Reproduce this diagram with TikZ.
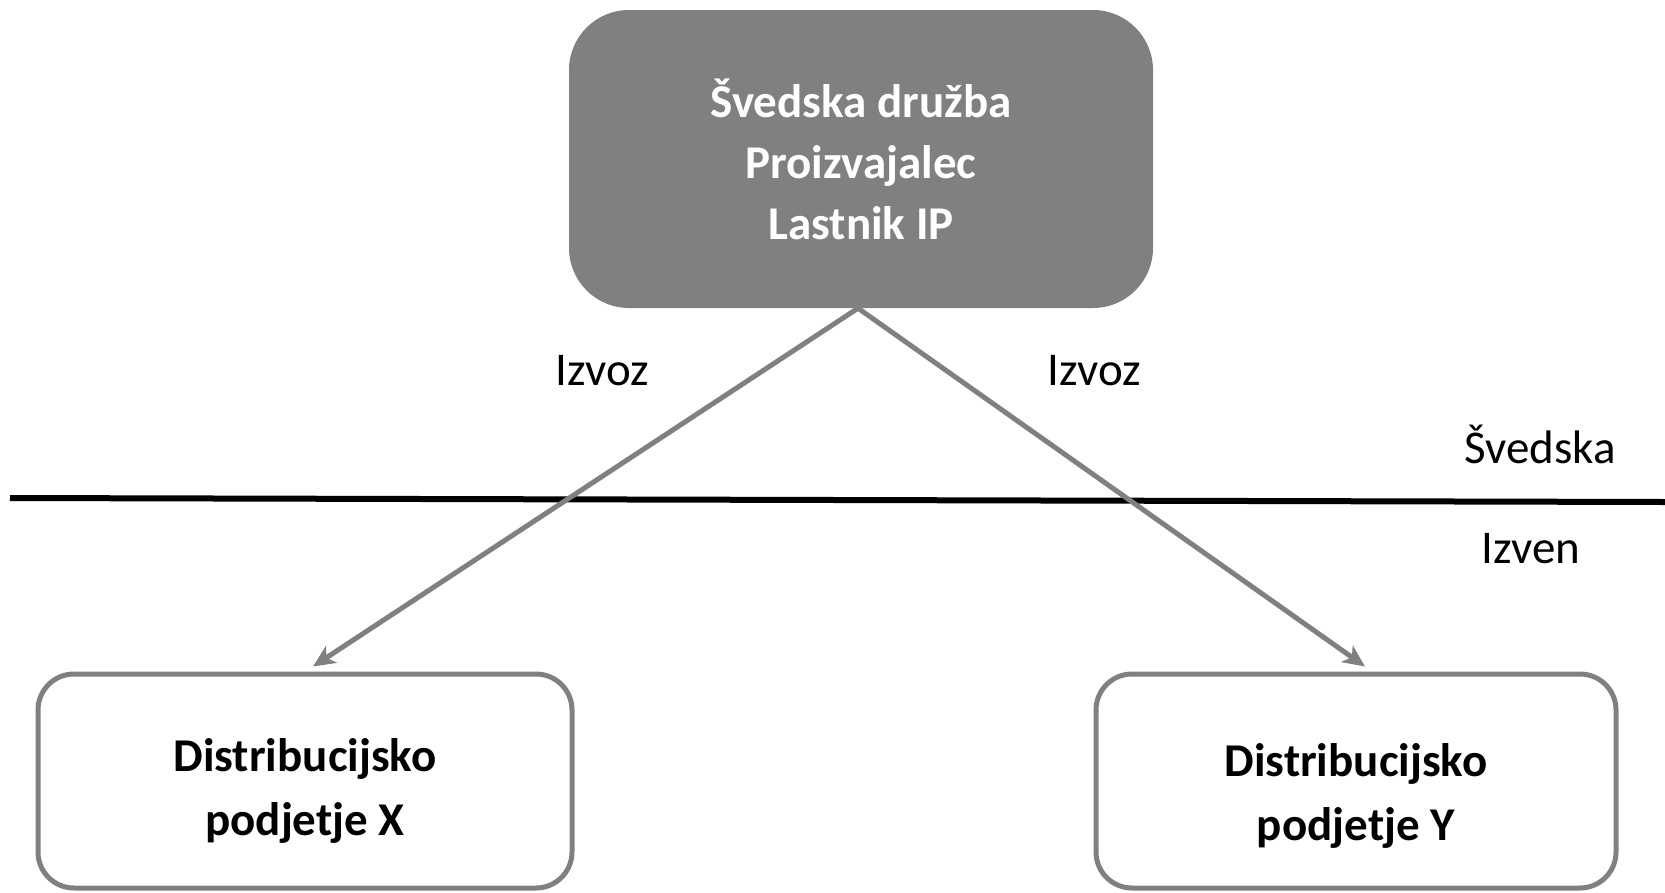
\documentclass[tikz,border=0pt]{standalone}
\usepackage{fontspec}
\setmainfont{Carlito}
\usetikzlibrary{arrows.meta,positioning}
\definecolor{boxgray}{HTML}{808080}
\tikzset{
  topbox/.style={rounded corners=60pt, fill=boxgray, draw=none, minimum width=584pt, minimum height=298pt, align=center, text=white, font=\fontsize{47}{61}\selectfont\bfseries},
  distbox/.style={rounded corners=36pt, draw=boxgray, line width=5pt, fill=white, minimum height=214pt},
  disttext/.style={align=center, font=\fontsize{47}{64}\selectfont\bfseries},
  flow/.style={draw=boxgray, line width=5pt, -{Stealth[length=22pt,width=20pt,inset=6pt]}},
  lbl/.style={font=\fontsize{47}{56}\selectfont, inner sep=0pt}
}
\begin{document}
\begin{tikzpicture}[x=1pt,y=-1pt]
\useasboundingbox (0,0) rectangle (1665,892);
\node[topbox] (top) at (861,159) {Švedska družba\\Proizvajalec\\Lastnik IP};
\node[distbox, minimum width=534pt] (bl) at (305,781) {};
\node[distbox, minimum width=520pt] (br) at (1356,781) {};
\node[disttext] (blt) at ([yshift=-10pt]bl.center) {Distribucijsko\\podjetje X};
\node[disttext] (brt) at ([yshift=-15pt]br.center) {Distribucijsko\\podjetje Y};
\coordinate (lineL) at (10,498);
\coordinate (lineR) at (1665,502);
\draw[black, line width=6pt] (lineL) -- (lineR);
\draw[flow] ([xshift=-3pt]top.south) -- ([xshift=8pt,yshift=5pt]bl.north);
\draw[flow] ([xshift=-3pt]top.south) -- ([xshift=9pt,yshift=5pt]br.north);
\node[lbl] (iz1) at (602,371) {Izvoz};
\node[lbl] (iz2) at (1094,371) {Izvoz};
\node[lbl] (sv) at (1540,444) {Švedska};
\node[lbl] (ven) at (1531,549) {Izven};
\end{tikzpicture}
\end{document}
